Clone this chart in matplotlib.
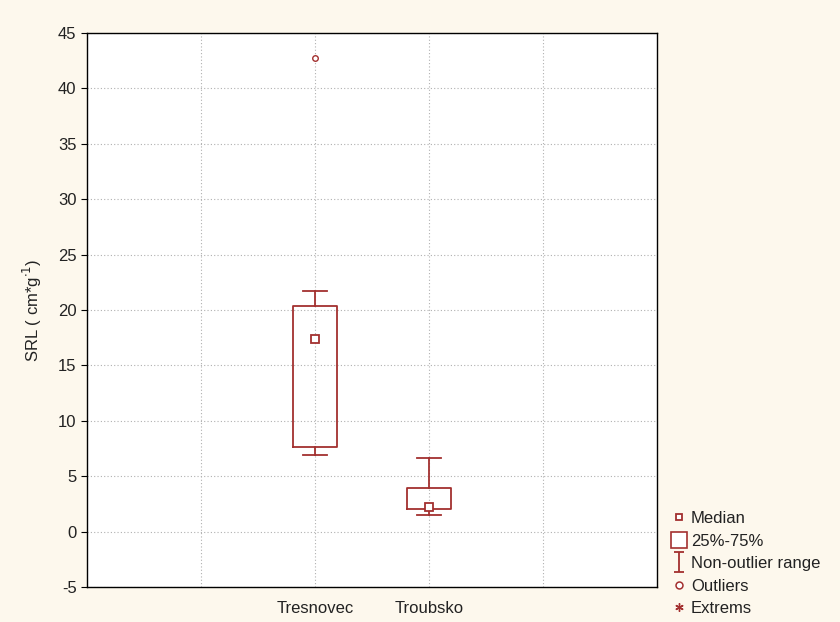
import numpy as np
import matplotlib
matplotlib.use('Agg')
import matplotlib.pyplot as plt
from matplotlib.lines import Line2D
from matplotlib.path import Path

plt.rcParams['font.family'] = ['Liberation Sans', 'DejaVu Sans']
plt.rcParams['axes.unicode_minus'] = False

# Box summary values
sites = ['Tresnovec', 'Troubsko']
positions = [2, 3]
q1 = [7.6, 2.0]
q3 = [20.4, 3.9]
medians = [17.4, 2.2]
whis_lo = [6.9, 1.5]
whis_hi = [21.7, 6.6]
outliers = [[42.7], []]

RED = '#a3302f'
BG = '#fdf8ed'
TXT = '#222222'
FS = 12

stats = []
for i in range(len(sites)):
    stats.append(dict(label=sites[i], med=medians[i], q1=q1[i], q3=q3[i],
                      whislo=whis_lo[i], whishi=whis_hi[i], fliers=outliers[i]))

fig = plt.figure(figsize=(8.4, 6.22), dpi=100, facecolor=BG)
ax = fig.add_axes([0.1036, 0.0563, 0.6786, 0.8907])
ax.set_facecolor('white')

ax.bxp(stats, positions=positions, widths=0.39, capwidths=0.21,
       boxprops=dict(color=RED, linewidth=1.3),
       whiskerprops=dict(color=RED, linewidth=1.3),
       capprops=dict(color=RED, linewidth=1.3),
       medianprops=dict(linestyle='none'),
       flierprops=dict(marker='o', markersize=4, markerfacecolor='white',
                       markeredgecolor=RED, markeredgewidth=1.0),
       zorder=3)
ax.plot(positions, medians, 's', markersize=5.5, markerfacecolor='white',
        markeredgecolor=RED, markeredgewidth=1.3, zorder=4, linestyle='none')

ax.set_xlim(0, 5)
ax.set_ylim(-5, 45)
ax.set_yticks(np.arange(-5, 46, 5))
ax.set_xticks([1, 2, 3, 4])
ax.set_xticklabels(['', sites[0], sites[1], ''])
ax.tick_params(axis='x', length=0, labelsize=FS, pad=10, labelcolor=TXT)
ax.tick_params(axis='y', direction='out', length=4, labelsize=FS, labelcolor=TXT)
ax.grid(True, color='#b0b0b0', linestyle=(0, (1, 2)), linewidth=0.8)
ax.set_axisbelow(True)
for s in ax.spines.values():
    s.set_linewidth(1.0)
ax.set_ylabel(r'SRL ( cm*g$^{\cdot1}$)', fontsize=FS, labelpad=10, color=TXT)

# legend handles
iverts = [(-0.5, 1), (0.5, 1), (0, 1), (0, -1), (-0.5, -1), (0.5, -1)]
icodes = [Path.MOVETO, Path.LINETO, Path.MOVETO, Path.LINETO, Path.MOVETO, Path.LINETO]
imarker = Path(iverts, icodes)
handles = [
    Line2D([], [], marker='s', markersize=5, mfc='white', mec=RED, mew=1.3, ls='none'),
    Line2D([], [], marker='s', markersize=12, mfc='white', mec=RED, mew=1.2, ls='none'),
    Line2D([], [], marker=imarker, markersize=14, mec=RED, mew=1.3, ls='none'),
    Line2D([], [], marker='o', markersize=5, mfc='white', mec=RED, mew=1.1, ls='none'),
    Line2D([], [], marker=(6, 2, 0), markersize=6, mec=RED, mew=1.0, ls='none'),
]
labels = ['Median', '25%-75%', 'Non-outlier range', 'Outliers', 'Extrems']
fig.legend(handles, labels, loc='lower left', bbox_to_anchor=(0.786, -0.008),
           frameon=False, fontsize=FS, handlelength=0.9, handletextpad=0.3,
           labelspacing=0.45, borderaxespad=0.25, labelcolor=TXT)

fig.savefig('out.png', dpi=100, facecolor=BG)
